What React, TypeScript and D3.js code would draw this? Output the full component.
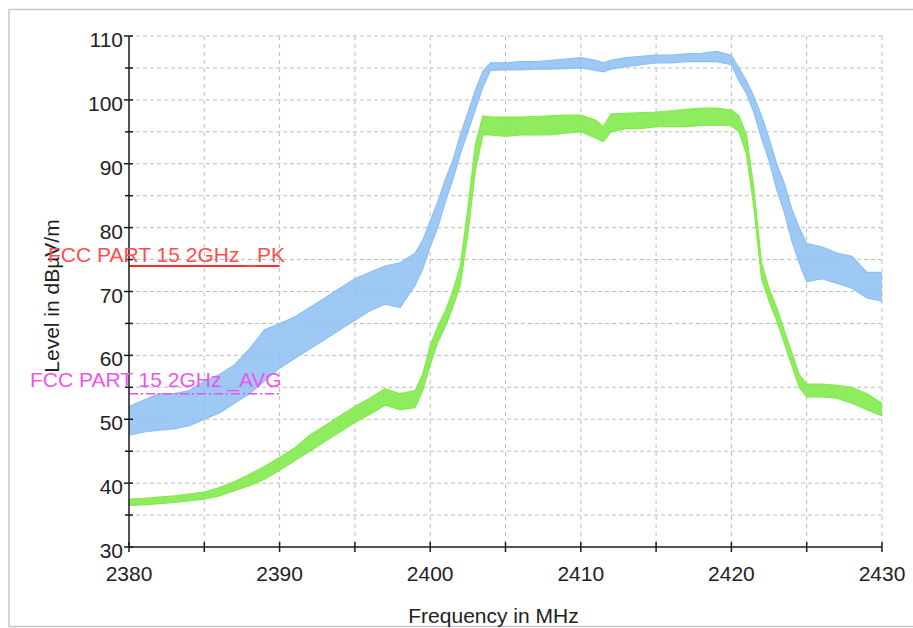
import React from 'react';
import * as d3 from 'd3';

// Frequencies (MHz) at which the traces were read
const freq = [
  2380, 2381, 2382, 2383, 2384, 2385, 2386, 2387, 2388, 2389,
  2390, 2391, 2392, 2393, 2394, 2395, 2396, 2397, 2398, 2399,
  2399.5, 2400, 2400.5, 2401, 2401.5, 2402, 2402.5, 2403, 2403.5,
  2404, 2405, 2406, 2407, 2408, 2409, 2410, 2411, 2411.5,
  2412, 2413, 2414, 2415, 2416, 2417, 2418, 2419, 2420,
  2420.5, 2421, 2421.5, 2422, 2422.5, 2423, 2423.5, 2424, 2424.5,
  2425, 2426, 2427, 2428, 2429, 2430,
];

// Peak trace (blue): lower / upper envelope of the noise band, dBµV/m
const peakLo = [
  47.5, 48, 48.3, 48.5, 49, 50, 51, 52.5, 54, 56,
  58, 59.5, 61, 62.5, 64, 65.5, 67, 68, 67.5, 71,
  73.5, 77, 80, 84, 87.5, 91.5, 95, 98.5, 102,
  104.6, 104.7, 104.7, 104.8, 104.8, 104.9, 105, 104.6, 104.4,
  104.8, 105.2, 105.5, 105.8, 105.8, 106, 106, 106, 105.5,
  103, 101, 98, 94, 90.5, 86, 82.5, 78, 74.5,
  71.5, 72, 71.3, 70.5, 69, 68.5,
];
const peakHi = [
  52, 53, 54, 54, 54.5, 56, 57, 58.5, 61, 64,
  65, 66, 67.5, 69, 70.5, 72, 73, 74, 74.5, 76,
  78, 81, 84, 87.5, 90.5, 94.5, 98, 101.5, 104.5,
  105.8, 105.8, 106, 106, 106.2, 106.4, 106.6, 106.2, 105.8,
  106.2, 106.6, 106.8, 107, 107, 107.2, 107.3, 107.6, 107,
  105, 103, 100.5, 97.5, 94, 90, 87, 83, 80,
  77.5, 77, 76, 75.5, 73, 73,
];

// Average trace (green): lower / upper envelope
const avgLo = [
  36.5, 36.6, 36.8, 37, 37.2, 37.5, 38, 38.8, 39.6, 40.6,
  42, 43.5, 45, 46.5, 48, 49.5, 50.8, 52.2, 51.5, 51.8,
  54.5, 58.5, 62, 64.5, 67.5, 71, 79, 89, 94.5,
  94.5, 94.3, 94.5, 94.5, 94.5, 94.8, 95, 94, 93.5,
  95, 95.5, 95.5, 95.8, 95.8, 95.8, 96, 96, 96,
  95, 91.5, 83, 72, 68.5, 65.5, 62, 58.5, 55,
  53.5, 53.5, 53.3, 52.5, 51.5, 50.5,
];
const avgHi = [
  37.5, 37.6, 37.8, 38, 38.3, 38.6, 39.3, 40.2, 41.4, 42.6,
  44, 45.5, 47.5, 49, 50.5, 52, 53.3, 54.8, 54, 54.5,
  57, 61.5, 64.5, 67, 70, 74, 83, 93, 97.5,
  97.3, 97.3, 97.3, 97.4, 97.5, 97.6, 97.6, 96.8, 95.8,
  97.8, 97.9, 98, 98.1, 98.3, 98.5, 98.7, 98.7, 98.4,
  97.5, 94.5, 86, 74.5, 70.5, 67.5, 64, 60.5, 57,
  55.5, 55.5, 55.3, 55, 54, 52.5,
];

// Limit lines
const limitNames = ['FCC PART 15 2GHz _PK', 'FCC PART 15 2GHz _AVG'];
const limitLevels = [74, 54];
const limitRange = [2380, 2390];

const xTicksMajor = [2380, 2390, 2400, 2410, 2420, 2430];
const xTicksMinor = [2385, 2395, 2405, 2415, 2425];
const yTicksMajor = [30, 40, 50, 60, 70, 80, 90, 100, 110];
const yTicksMinor = [35, 45, 55, 65, 75, 85, 95, 105];
const xGrid = [2385, 2390, 2395, 2400, 2405, 2410, 2415, 2420, 2425, 2430];
const yGrid = [35, 40, 45, 50, 55, 60, 65, 70, 75, 80, 85, 90, 95, 100, 105, 110];

const xTitle = 'Frequency in MHz';
const yTitle = 'Level in dBµV/m';

export default function App() {
  const W = 913, H = 628;
  const x = d3.scaleLinear().domain([2380, 2430]).range([129, 882]);
  const y = d3.scaleLinear().domain([30, 110]).range([547, 36]);
  const font = '"Liberation Sans", Arial, sans-serif';

  const band = (lo: number[], hi: number[]) =>
    d3.area<number>()
      .x((_, i) => x(freq[i]))
      .y0((_, i) => y(lo[i]))
      .y1((_, i) => y(hi[i]))(freq.map((_, i) => i)) || '';
  const edge = (vals: number[]) =>
    d3.line<number>().x((_, i) => x(freq[i])).y((v) => y(v))(vals) || '';

  const blue = '#8cc0f2';
  const green = '#82ea4c';
  const [x0, x1] = y.range();
  const left = x(2380), right = x(2430), bottom = y(30), top = y(110);

  return (
    <svg width={W} height={H} style={{ position: 'absolute', left: 0, top: 0, background: '#fff' }}>
      <rect x={9} y={9.5} width={1000} height={617} fill="#fff" stroke="#c8c8c8" strokeWidth={1.5} />
      {/* grid */}
      {xGrid.map((f) => (
        <line key={'gx' + f} x1={x(f)} x2={x(f)} y1={top} y2={bottom} stroke="#bdbdbd" strokeDasharray="4,4" strokeWidth={1} />
      ))}
      {yGrid.map((v) => (
        <line key={'gy' + v} x1={left} x2={right} y1={y(v)} y2={y(v)} stroke="#bdbdbd" strokeDasharray="4,3" strokeWidth={1} />
      ))}
      {/* traces */}
      <path d={band(peakLo, peakHi)} fill={blue} fillOpacity={0.85} />
      <path d={edge(peakLo)} fill="none" stroke={blue} strokeWidth={1.2} />
      <path d={edge(peakHi)} fill="none" stroke={blue} strokeWidth={1.2} />
      <path d={band(avgLo, avgHi)} fill={green} fillOpacity={0.9} />
      <path d={edge(avgLo)} fill="none" stroke={green} strokeWidth={1.2} />
      <path d={edge(avgHi)} fill="none" stroke={green} strokeWidth={1.2} />
      {/* limit lines */}
      <line x1={x(limitRange[0])} x2={x(limitRange[1])} y1={y(limitLevels[0])} y2={y(limitLevels[0])} stroke="#ff2a2a" strokeWidth={2} />
      <line x1={x(limitRange[0])} x2={x(limitRange[1])} y1={y(limitLevels[1])} y2={y(limitLevels[1])} stroke="#f04cf0" strokeWidth={1.5} strokeDasharray="9,3,2,3" />
      {/* axes */}
      <line x1={left} x2={left} y1={top} y2={bottom} stroke="#1a1a1a" strokeWidth={1.5} />
      <line x1={left} x2={right} y1={bottom} y2={bottom} stroke="#1a1a1a" strokeWidth={1.5} />
      {yTicksMajor.map((v) => (
        <g key={'ym' + v}>
          <line x1={left - 5} x2={left + 4} y1={y(v)} y2={y(v)} stroke="#1a1a1a" strokeWidth={1.5} />
          <text x={123} y={y(v) + 11} textAnchor="end" fontFamily={font} fontSize={21} fill="#222">{v}</text>
        </g>
      ))}
      {yTicksMinor.map((v) => (
        <line key={'yn' + v} x1={left - 4} x2={left + 4} y1={y(v)} y2={y(v)} stroke="#1a1a1a" strokeWidth={1.5} />
      ))}
      {xTicksMajor.map((f) => (
        <g key={'xm' + f}>
          <line x1={x(f)} x2={x(f)} y1={bottom - 5} y2={bottom + 5} stroke="#1a1a1a" strokeWidth={1.5} />
          <text x={x(f)} y={581} textAnchor="middle" fontFamily={font} fontSize={21} fill="#222">{f}</text>
        </g>
      ))}
      {xTicksMinor.map((f) => (
        <line key={'xn' + f} x1={x(f)} x2={x(f)} y1={bottom - 5} y2={bottom + 5} stroke="#1a1a1a" strokeWidth={1.5} />
      ))}
      {/* titles */}
      <text x={(left + right) / 2 - 12} y={623} textAnchor="middle" fontFamily={font} fontSize={21} fill="#222">{xTitle}</text>
      <text transform={`translate(59,296) rotate(-90)`} textAnchor="middle" fontFamily={font} fontSize={21} fill="#222">{yTitle}</text>
      {/* limit labels */}
      <text x={48} y={262} fontFamily={font} fontSize={21} fill="#ff4d4d">{limitNames[0]}</text>
      <text x={30} y={387} fontFamily={font} fontSize={21} fill="#ee55ee">{limitNames[1]}</text>
    </svg>
  );
}
